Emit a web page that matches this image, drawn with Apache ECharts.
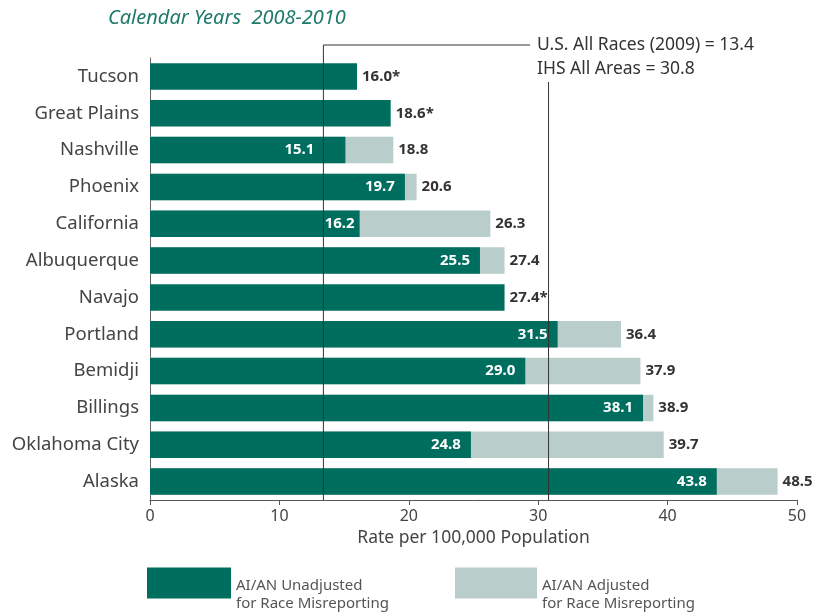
<!DOCTYPE html>
<html>
<head>
<meta charset="utf-8">
<script src="https://cdn.jsdelivr.net/npm/echarts@6/dist/echarts.min.js"></script>
<style>
html,body{margin:0;padding:0;background:#fff;}
#chart{width:825px;height:613px;}
</style>
</head>
<body>
<div id="chart"></div>
<script>
const categories = ['Tucson','Great Plains','Nashville','Phoenix','California','Albuquerque','Navajo','Portland','Bemidji','Billings','Oklahoma City','Alaska'];
const unadjusted = [16.0,18.6,15.1,19.7,16.2,25.5,27.4,31.5,29.0,38.1,24.8,43.8];
const adjusted = [null,null,18.8,20.6,26.3,27.4,null,36.4,37.9,38.9,39.7,48.5];
const notes = ['*','*','','','','','*','','','','',''];
const xMin = 0, xMax = 50, xStep = 10;
const usAllRaces = 13.4;
const ihsAllAreas = 30.8;
const seriesNames = ['AI/AN Unadjusted\nfor Race Misreporting','AI/AN Adjusted\nfor Race Misreporting'];
const titleText = 'Calendar Years  2008-2010';
const refTexts = ['U.S. All Races (2009) = 13.4','IHS All Areas = 30.8'];
const axisName = 'Rate per 100,000 Population';

// style config (label nudges to keep inside labels clear of the reference line)
const GREEN = '#006e5f', GREY = '#b9cdca', FONT = '"Noto Sans", "Open Sans", sans-serif';
const GRID = {left:150, right:28, top:58, bottom:113};
const insideDistance = {Nashville:31, California:5};

const chart = echarts.init(document.getElementById('chart'), null, {renderer:'canvas'});

const greenData = unadjusted.map((v,i) => {
  const outside = adjusted[i] == null;
  const d = insideDistance[categories[i]] != null ? insideDistance[categories[i]] : 10;
  return {
    value: v,
    label: outside ? {
      show:true, position:'right', distance:5, color:'#333',
      formatter: () => v.toFixed(1) + notes[i]
    } : {
      show:true, position:'insideRight', distance:d, color:'#fff',
      formatter: () => v.toFixed(1)
    }
  };
});
const greyData = adjusted.map(v => v == null ? null : {
  value: v,
  label: {show:true, position:'right', distance:5, color:'#333', formatter: () => v.toFixed(1)}
});

const legendText = {
  fontFamily:FONT, fontSize:15, color:'#555',
  rich:{
    sp:{fontSize:2, lineHeight:23},
    t:{fontFamily:FONT, fontSize:15, color:'#555', lineHeight:18}
  }
};
const legendFmt = name => '{sp| }\n' + name.split('\n').map(s => '{t|' + s + '}').join('\n');

chart.setOption({
  animation:false,
  textStyle:{fontFamily:FONT},
  title:{text:titleText, left:103, top:3, textStyle:{fontFamily:FONT, fontStyle:'italic', fontWeight:'normal', fontSize:20, color:'#1f7a6b'}},
  grid:GRID,
  legend:[
    {data:[seriesNames[0]], left:147, top:564, padding:0, itemWidth:84, itemHeight:31, itemGap:0, icon:'rect', textStyle:legendText, formatter:legendFmt, selectedMode:false},
    {data:[seriesNames[1]], left:455, top:564, padding:0, itemWidth:82, itemHeight:31, itemGap:0, icon:'rect', textStyle:legendText, formatter:legendFmt, selectedMode:false}
  ],
  xAxis:{
    type:'value', min:xMin, max:xMax, interval:xStep,
    name:axisName, nameLocation:'middle', nameGap:28,
    nameTextStyle:{fontFamily:FONT, fontSize:17.5, color:'#444'},
    axisLine:{show:true, lineStyle:{color:'#555', width:1}},
    axisTick:{show:true, length:5, lineStyle:{color:'#555'}},
    axisLabel:{fontFamily:FONT, fontSize:16, color:'#444', margin:8},
    splitLine:{show:false}
  },
  yAxis:{
    type:'category', data:categories, inverse:true,
    axisLine:{show:true, lineStyle:{color:'#666', width:1}},
    axisTick:{show:false},
    axisLabel:{fontFamily:FONT, fontSize:18.5, color:'#444', margin:11}
  },
  series:[
    {name:seriesNames[1], type:'bar', data:greyData, barWidth:'72%', barGap:'-100%', itemStyle:{color:GREY},
     label:{fontFamily:FONT, fontWeight:'bold', fontSize:15}, z:2},
    {name:seriesNames[0], type:'bar', data:greenData, barWidth:'72%', barGap:'-100%', itemStyle:{color:GREEN},
     label:{fontFamily:FONT, fontWeight:'bold', fontSize:15}, z:3}
  ]
});

const yBottom = 613 - GRID.bottom;
const xUS = chart.convertToPixel({xAxisIndex:0}, usAllRaces);
const xIHS = chart.convertToPixel({xAxisIndex:0}, ihsAllAreas);
chart.setOption({
  graphic:[
    {type:'polyline', z:100, shape:{points:[[xUS,yBottom],[xUS,45],[530,45]]}, style:{stroke:'#333', lineWidth:1, fill:null}},
    {type:'line', z:100, shape:{x1:xIHS, y1:82, x2:xIHS, y2:yBottom}, style:{stroke:'#333', lineWidth:1}},
    {type:'text', z:100, x:537, y:45, style:{text:refTexts[0], fontFamily:FONT, fontSize:17.5, fill:'#333', verticalAlign:'middle'}},
    {type:'text', z:100, x:537, y:69, style:{text:refTexts[1], fontFamily:FONT, fontSize:17.5, fill:'#333', verticalAlign:'middle'}}
  ]
});
</script>
</body>
</html>
